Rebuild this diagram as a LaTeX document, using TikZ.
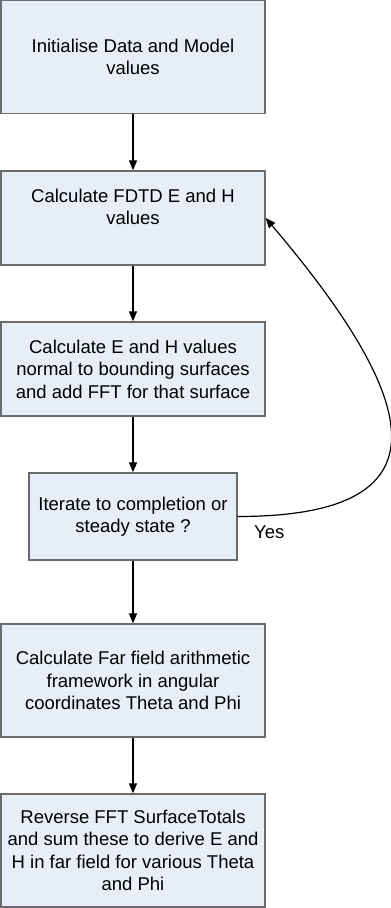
\documentclass[tikz,border=0pt]{standalone}
\usepackage{fontspec}
\setmainfont{Liberation Sans}
\usetikzlibrary{arrows.meta}
\definecolor{boxfill}{HTML}{E8EEF7}
\definecolor{boxline}{HTML}{6B6B6B}
\begin{document}
\begin{tikzpicture}[x=1pt, y=1pt,
  every node/.style={font=\fontsize{18.5}{22.5}\selectfont},
  stepbox/.style={draw=boxline, line width=1.3pt, fill=boxfill, align=center, inner sep=0pt, minimum width=264pt},
  flow/.style={line width=1.3pt, -{Triangle[length=10pt,width=8pt]}}]
\useasboundingbox (0,0) rectangle (391,908);
% main column
\node[stepbox, minimum height=113pt] (init) at (133,851) {Initialise Data and Model\\values};
\node[stepbox, minimum height=94pt] (fdtd) at (133,690) {Calculate FDTD E and H\\values\\\mbox{}};
\node[stepbox, minimum height=94pt] (surf) at (133,539) {Calculate E and H values\\normal to bounding surfaces\\and add FFT for that surface};
\node[stepbox, minimum height=87pt, minimum width=208pt] (iter) at (133,391.5) {Iterate to completion or\\steady state ?};
\node[stepbox, minimum height=113pt] (far) at (133,227.5) {Calculate Far field arithmetic\\framework in angular\\coordinates Theta and Phi};
\node[stepbox, minimum height=113pt] (rev) at (133,57.5) {Reverse FFT SurfaceTotals\\and sum these to derive E and\\H in far field for various Theta\\and Phi};
\draw[flow] (init) -- (fdtd);
\draw[flow] (fdtd) -- (surf);
\draw[flow] (surf) -- (iter);
\draw[flow] (iter) -- (far);
\draw[flow] (far) -- (rev);
% loop back
\node[anchor=west, inner sep=0pt] (yes) at (254,376) {Yes};
\draw[flow, line width=1.2pt] (iter.east) .. controls +(213pt,0) and +(158pt,-186pt) .. (fdtd.east);
\end{tikzpicture}
\end{document}
